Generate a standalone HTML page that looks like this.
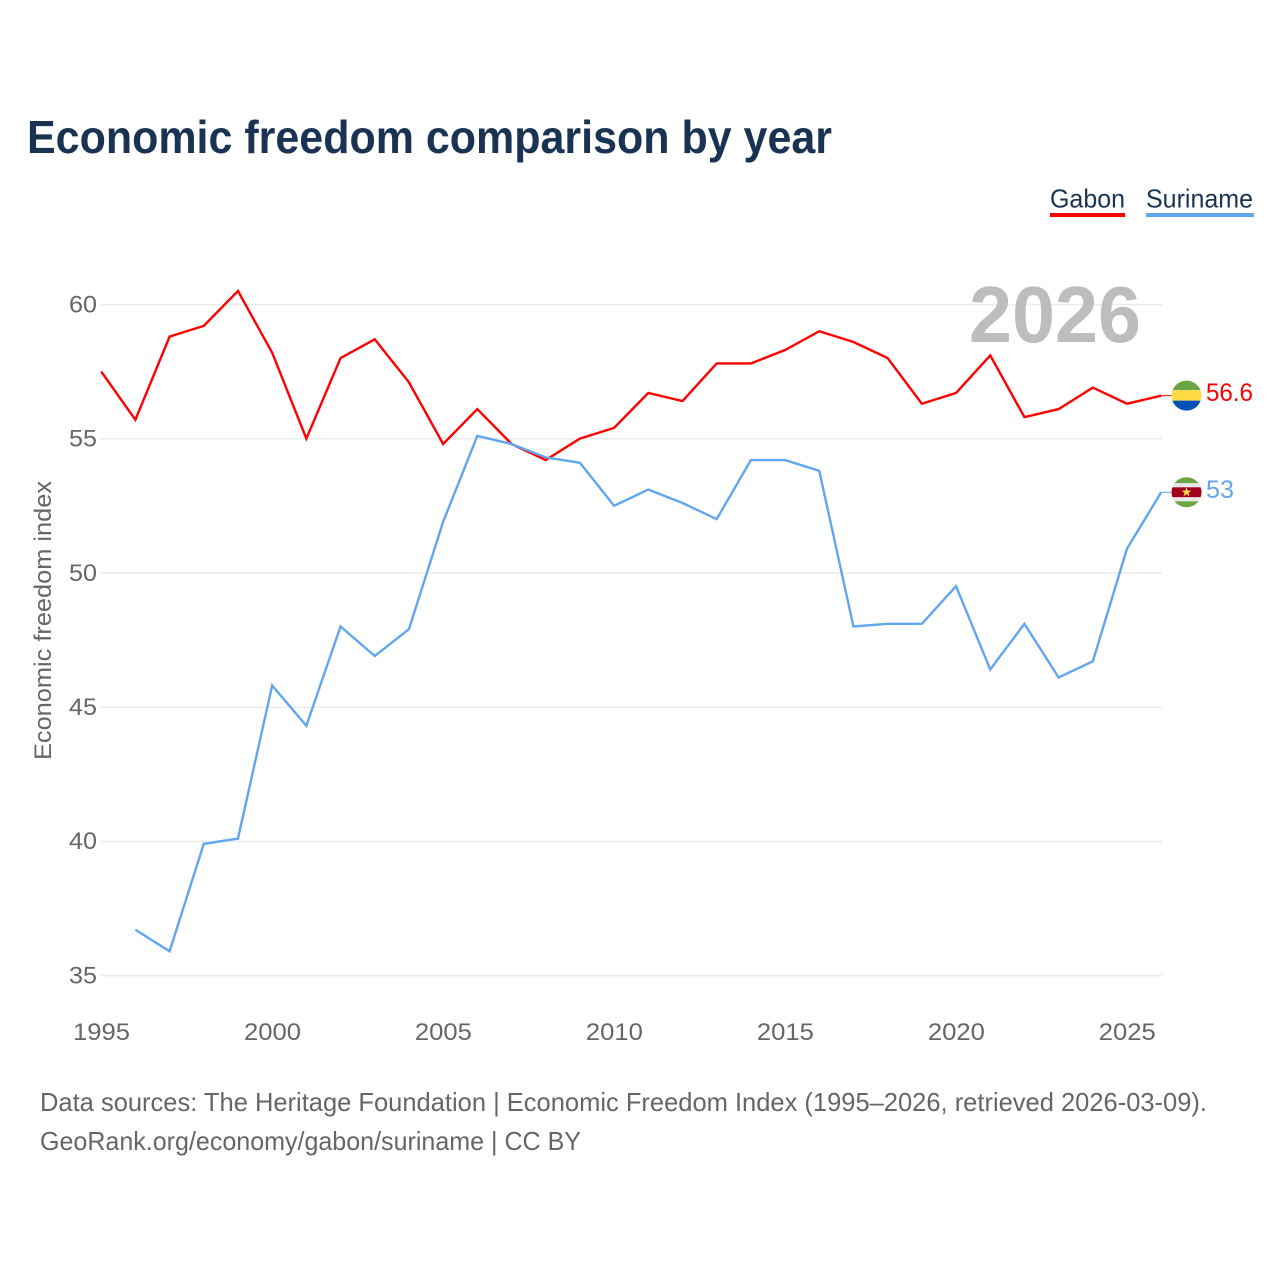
<!DOCTYPE html>
<html>
<head>
<meta charset="utf-8">
<style>
html,body{margin:0;padding:0;background:#fff;}
svg{display:block;font-family:"Liberation Sans",sans-serif;}
</style>
</head>
<body>
<svg id="chart" width="1280" height="1280" viewBox="0 0 1280 1280" xmlns="http://www.w3.org/2000/svg">
<rect width="1280" height="1280" fill="#ffffff"/>
<text x="27" y="153" font-size="46" font-weight="700" fill="#1a3353" textLength="805" lengthAdjust="spacingAndGlyphs">Economic freedom comparison by year</text>
<g>
<text x="1050" y="207.5" font-size="26" fill="#1a3353" textLength="75" lengthAdjust="spacingAndGlyphs">Gabon</text>
<rect x="1050" y="213" width="75" height="4" fill="#ff0000"/>
</g>
<g>
<text x="1146" y="207.5" font-size="26" fill="#1a3353" textLength="107" lengthAdjust="spacingAndGlyphs">Suriname</text>
<rect x="1146" y="213" width="108" height="4" fill="#62a6ee"/>
</g>
<g id="grid"></g>
<text x="969" y="342" font-size="80" font-weight="700" fill="#bdbdbd" textLength="172" lengthAdjust="spacingAndGlyphs">2026</text>
<g id="yticks"></g>
<g id="xticks"></g>
<text transform="translate(51,760) rotate(-90)" font-size="24" fill="#666666" textLength="279" lengthAdjust="spacingAndGlyphs">Economic freedom index</text>
<g id="series"></g>
<g id="endmarks"></g>
<text x="40" y="1111" font-size="26" fill="#666666" textLength="1167" lengthAdjust="spacingAndGlyphs">Data sources: The Heritage Foundation | Economic Freedom Index (1995–2026, retrieved 2026-03-09).</text>
<text x="40" y="1150" font-size="26" fill="#666666" textLength="541" lengthAdjust="spacingAndGlyphs">GeoRank.org/economy/gabon/suriname | CC BY</text>
</svg>
<script>
const years = [1995,1996,1997,1998,1999,2000,2001,2002,2003,2004,2005,2006,2007,2008,2009,2010,2011,2012,2013,2014,2015,2016,2017,2018,2019,2020,2021,2022,2023,2024,2025,2026];
const gabonValues = [57.5,55.7,58.8,59.2,60.5,58.2,55.0,58.0,58.7,57.1,54.8,56.1,54.8,54.2,55.0,55.4,56.7,56.4,57.8,57.8,58.3,59.0,58.6,58.0,56.3,56.7,58.1,55.8,56.1,56.9,56.3,56.6];
const surinameValues = [null,36.7,35.9,39.9,40.1,45.8,44.3,48.0,46.9,47.9,51.9,55.1,54.8,54.3,54.1,52.5,53.1,52.6,52.0,54.2,54.2,53.8,48.0,48.1,48.1,49.5,46.4,48.1,46.1,46.7,50.9,53.0];
const yTickValues = [35,40,45,50,55,60];
const xTickValues = [1995,2000,2005,2010,2015,2020,2025];

const NS = 'http://www.w3.org/2000/svg';
function xScale(year){ return 101.2 + (year - 1995) * (1060 / 31); }
function yScale(v){ return 975.4 - (v - 35) * (671 / 25); }
function make(tag, attrs, parent){
  const el = document.createElementNS(NS, tag);
  for (const k in attrs) el.setAttribute(k, attrs[k]);
  parent.appendChild(el);
  return el;
}

const grid = document.getElementById('grid');
const yticks = document.getElementById('yticks');
yTickValues.forEach(function(v){
  const line = make('line', {x1:101, x2:1162, y1:yScale(v)+0.2, y2:yScale(v)+0.2, stroke:'#ebebeb', 'stroke-width':1.5}, grid);
  
  
  const t = make('text', {x:97, y:yScale(v)+8, 'font-size':24, fill:'#666666', 'text-anchor':'end', textLength:28, lengthAdjust:'spacingAndGlyphs'}, yticks);
  t.textContent = v;
  
  
});

const xticks = document.getElementById('xticks');
xTickValues.forEach(function(y){
  const t = make('text', {x:xScale(y)-28.2, y:1040, 'font-size':24, fill:'#666666', textLength:57, lengthAdjust:'spacingAndGlyphs'}, xticks);
  t.textContent = y;
  
  
});

function linePoints(values){
  const pts = [];
  values.forEach(function(v, i){
    if (v !== null) pts.push(xScale(years[i]).toFixed(2) + ',' + yScale(v).toFixed(2));
  });
  return pts.join(' ');
}
const series = document.getElementById('series');
const gabonLine = make('polyline', {points:linePoints(gabonValues), fill:'none', stroke:'#ff0000', 'stroke-width':2.4, 'stroke-linejoin':'miter'}, series);


const surinameLine = make('polyline', {points:linePoints(surinameValues), fill:'none', stroke:'#62a6ee', 'stroke-width':2.4, 'stroke-linejoin':'miter'}, series);



const endmarks = document.getElementById('endmarks');
const lastX = xScale(years[years.length - 1]);
const gY = yScale(gabonValues[gabonValues.length - 1]);
const sY = yScale(surinameValues[surinameValues.length - 1]);

const gLead = make('line', {x1:lastX, x2:lastX+10, y1:gY, y2:gY, stroke:'#ff0000', 'stroke-width':1}, endmarks);


const sLead = make('line', {x1:lastX, x2:lastX+10, y1:sY, y2:sY, stroke:'#62a6ee', 'stroke-width':1}, endmarks);



const defs = make('defs', {}, endmarks);
const clipG = make('clipPath', {id:'clip-gabon'}, defs);
make('circle', {cx:1186.5, cy:gY, r:15}, clipG);
const clipS = make('clipPath', {id:'clip-suriname'}, defs);
make('circle', {cx:1186.5, cy:sY, r:15}, clipS);

const flagG = make('g', {'clip-path':'url(#clip-gabon)'}, endmarks);


make('rect', {x:1171, y:gY-16, width:31, height:10.5, fill:'#6da544'}, flagG);
make('rect', {x:1171, y:gY-5.5, width:31, height:10.5, fill:'#ffda44'}, flagG);
make('rect', {x:1171, y:gY+5, width:31, height:11, fill:'#0052b4'}, flagG);

const flagS = make('g', {'clip-path':'url(#clip-suriname)'}, endmarks);


make('rect', {x:1171, y:sY-16, width:31, height:7, fill:'#6da544'}, flagS);
make('rect', {x:1171, y:sY-9, width:31, height:4, fill:'#e8e8e8'}, flagS);
make('rect', {x:1171, y:sY-5, width:31, height:10, fill:'#a2001d'}, flagS);
make('rect', {x:1171, y:sY+5, width:31, height:4, fill:'#e8e8e8'}, flagS);
make('rect', {x:1171, y:sY+9, width:31, height:7, fill:'#6da544'}, flagS);
const cx = 1186.5, cy = sY;
make('polygon', {points:[[0,-5],[1.3,-1.6],[4.8,-1.5],[2,0.6],[3,4],[0,2],[-3,4],[-2,0.6],[-4.8,-1.5],[-1.3,-1.6]].map(function(p){return (cx+p[0])+','+(cy+p[1]);}).join(' '), fill:'#ffda44'}, flagS);

const gVal = make('text', {x:1206, y:gY+5.5, 'font-size':25, fill:'#ff0000', textLength:47, lengthAdjust:'spacingAndGlyphs'}, endmarks);
gVal.textContent = gabonValues[gabonValues.length - 1];


const sVal = make('text', {x:1206, y:sY+5.5, 'font-size':25, fill:'#62a6ee', textLength:28, lengthAdjust:'spacingAndGlyphs'}, endmarks);
sVal.textContent = surinameValues[surinameValues.length - 1];


</script>
</body>
</html>
